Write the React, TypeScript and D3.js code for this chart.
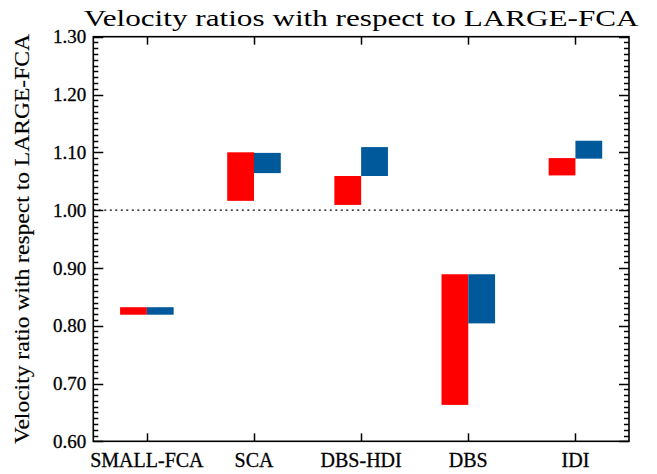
import { useRef, useEffect } from 'react';
import * as d3 from 'd3';

// categories along the x axis
const categories = ['SMALL-FCA', 'SCA', 'DBS-HDI', 'DBS', 'IDI'];

// red boxes (low / high ratio)
const redLow = [0.819, 1.016, 1.009, 0.663, 1.060];
const redHigh = [0.832, 1.100, 1.059, 0.889, 1.090];

// blue boxes (low / high ratio)
const blueLow = [0.819, 1.064, 1.059, 0.804, 1.089];
const blueHigh = [0.832, 1.099, 1.109, 0.889, 1.120];

const yMajorTicks = [0.6, 0.7, 0.8, 0.9, 1.0, 1.1, 1.2, 1.3];

const App = () => {
  const svgRef = useRef<SVGSVGElement>(null);

  useEffect(() => {
    if (!svgRef.current) return;
    const svg = d3.select(svgRef.current);
    svg.selectAll('*').remove();

    const W = 657;
    const H = 474;
    const left = 93.3;
    const right = 629;
    const top = 36.7;
    const bottom = 441.3;
    const font = '"Liberation Serif", "DejaVu Serif", serif';

    svg.append('rect').attr('width', W).attr('height', H).attr('fill', '#fff');

    const x = d3.scaleLinear().domain([0, categories.length]).range([left, right]);
    const y = d3.scaleLinear().domain([0.6, 1.3]).range([bottom, top]);

    const minorTicks = d3.range(60, 131).map(v => v / 100);
    const catTicks = categories.map((_, i) => i + 0.5);

    // bars
    const g = svg.append('g');
    categories.forEach((_, i) => {
      g.append('rect')
        .attr('x', x(i + 0.25))
        .attr('width', x(i + 0.5) - x(i + 0.25))
        .attr('y', y(redHigh[i]))
        .attr('height', y(redLow[i]) - y(redHigh[i]))
        .attr('fill', '#ff0000');
      g.append('rect')
        .attr('x', x(i + 0.5))
        .attr('width', x(i + 0.75) - x(i + 0.5))
        .attr('y', y(blueHigh[i]))
        .attr('height', y(blueLow[i]) - y(blueHigh[i]))
        .attr('fill', '#00599b');
    });

    // reference line at 1.00
    svg.append('line')
      .attr('x1', left).attr('x2', right)
      .attr('y1', y(1)).attr('y2', y(1))
      .attr('stroke', '#000')
      .attr('stroke-width', 1.3)
      .attr('stroke-dasharray', '2,3.5');

    // frame
    svg.append('rect')
      .attr('x', left).attr('y', top)
      .attr('width', right - left).attr('height', bottom - top)
      .attr('fill', 'none')
      .attr('stroke', '#000')
      .attr('stroke-width', 1.6);

    // ticks
    const ticks = svg.append('g');
    minorTicks.forEach(v => {
      const major = Math.round(v * 100) % 10 === 0;
      const len = major ? 10 : 5;
      const yy = Math.round(y(v)) + 0.5;
      ticks.append('line')
        .attr('x1', left).attr('x2', left + len)
        .attr('y1', yy).attr('y2', yy)
        .attr('stroke', '#000').attr('stroke-width', 1.5);
      ticks.append('line')
        .attr('x1', right).attr('x2', right - len)
        .attr('y1', yy).attr('y2', yy)
        .attr('stroke', '#000').attr('stroke-width', 1.5);
    });
    catTicks.forEach(c => {
      const xx = Math.round(x(c)) + 0.5;
      ticks.append('line')
        .attr('x1', xx).attr('x2', xx)
        .attr('y1', bottom).attr('y2', bottom - 8)
        .attr('stroke', '#000').attr('stroke-width', 1.5);
      ticks.append('line')
        .attr('x1', xx).attr('x2', xx)
        .attr('y1', top).attr('y2', top + 8)
        .attr('stroke', '#000').attr('stroke-width', 1.5);
    });

    // y tick labels
    svg.append('g')
      .selectAll('text')
      .data(yMajorTicks)
      .join('text')
      .attr('x', left - 7)
      .attr('y', d => y(d))
      .attr('dy', '0.35em')
      .attr('text-anchor', 'end')
      .style('font-family', font)
      .style('font-size', '19px')
      .attr('fill', '#000')
      .attr('stroke', '#000')
      .attr('stroke-width', 0.3)
      .text(d => d3.format('.2f')(d));

    // x tick labels
    svg.append('g')
      .selectAll('text')
      .data(categories)
      .join('text')
      .attr('x', (_, i) => x(catTicks[i]))
      .attr('y', 467)
      .attr('text-anchor', 'middle')
      .style('font-family', font)
      .style('font-size', '20px')
      .attr('fill', '#000')
      .attr('stroke', '#000')
      .attr('stroke-width', 0.3)
      .text(d => d);

    // title
    svg.append('text')
      .attr('x', (left + right) / 2)
      .attr('y', 26)
      .attr('text-anchor', 'middle')
      .attr('textLength', 555)
      .attr('lengthAdjust', 'spacingAndGlyphs')
      .style('font-family', font)
      .style('font-size', '24px')
      .text('Velocity ratios with respect to LARGE-FCA');

    // y axis title
    svg.append('text')
      .attr('transform', `translate(29,${(top + bottom) / 2}) rotate(-90)`)
      .attr('text-anchor', 'middle')
      .attr('textLength', 410)
      .attr('lengthAdjust', 'spacingAndGlyphs')
      .style('font-family', font)
      .style('font-size', '20px')
      .attr('stroke', '#000')
      .attr('stroke-width', 0.15)
      .text('Velocity ratio with respect to LARGE-FCA');
  }, []);

  return (
    <svg
      ref={svgRef}
      width={657}
      height={474}
      style={{ position: 'absolute', left: 0, top: 0 }}
    />
  );
};

export default App;
